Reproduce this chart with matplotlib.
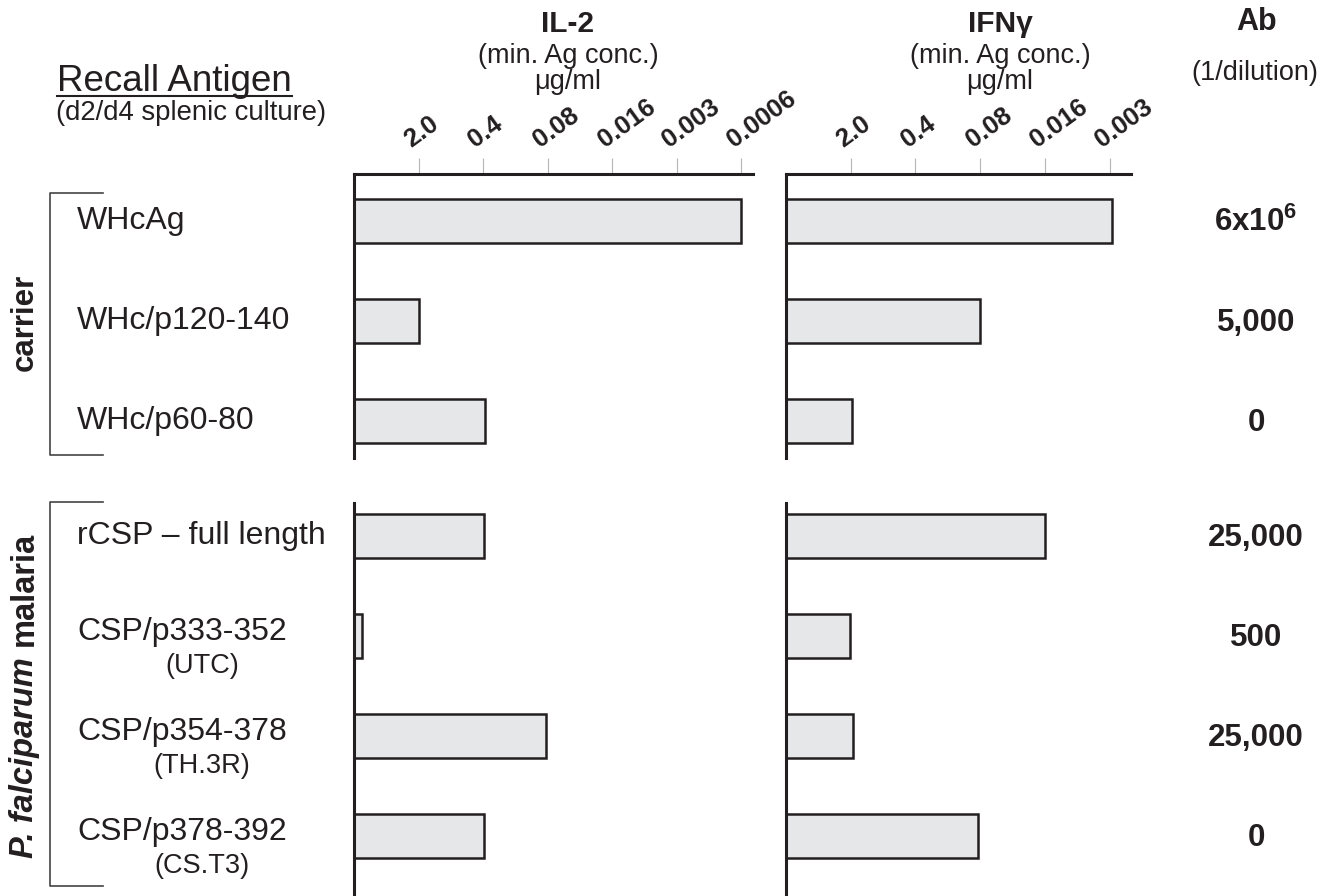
import numpy as np
import matplotlib
matplotlib.use('Agg')
import matplotlib.pyplot as plt
from matplotlib import transforms
from matplotlib.lines import Line2D

plt.rcParams['font.family'] = ['Liberation Sans', 'DejaVu Sans']
plt.rcParams['mathtext.fontset'] = 'custom'
plt.rcParams['mathtext.rm'] = 'Liberation Sans'
plt.rcParams['mathtext.bf'] = 'Liberation Sans:bold'

# recall antigens, two groups
carrier_antigens = ['WHcAg', 'WHc/p120-140', 'WHc/p60-80']
carrier_sub = ['', '', '']
malaria_antigens = ['rCSP \u2013 full length', 'CSP/p333-352', 'CSP/p354-378', 'CSP/p378-392']
malaria_sub = ['', '(UTC)', '(TH.3R)', '(CS.T3)']

# end of bar in dilution steps (1 = 2.0, 2 = 0.4, 3 = 0.08 ... ug/ml)
il2_carrier = [6.0, 1.0, 2.03]
il2_malaria = [2.02, 0.13, 2.98, 2.02]
ifn_carrier = [5.03, 3.0, 1.02]
ifn_malaria = [4.0, 0.99, 1.04, 2.96]

il2_ticks = ['2.0', '0.4', '0.08', '0.016', '0.003', '0.0006']
ifn_ticks = ['2.0', '0.4', '0.08', '0.016', '0.003']

# antibody titres (1/dilution)
ab_carrier = [r'$\mathbf{6x10^{6}}$', '5,000', '0']
ab_malaria = ['25,000', '500', '25,000', '0']

W, H = 1327, 896
INK = '#231f20'
BAR = '#e6e7e8'

fig = plt.figure(figsize=(W / 100, H / 100), dpi=100)


def box(x0, y0, x1, y1):
    return [x0 / W, 1 - y1 / H, (x1 - x0) / W, (y1 - y0) / H]


def ftext(x, y, s, **kw):
    return fig.text(x / W, 1 - y / H, s, color=INK, **kw)


def panel(rect, vals, xmax, ylim, ticks=None):
    ax = fig.add_axes(rect)
    rows = np.arange(len(vals))
    ax.barh(rows, vals, height=0.44, left=0, color=BAR, edgecolor=INK, linewidth=1.8)
    ax.set_xlim(0, xmax)
    ax.set_ylim(*ylim)
    ax.set_facecolor('none')
    ax.spines['right'].set_visible(False)
    ax.spines['bottom'].set_visible(False)
    ax.spines['left'].set_linewidth(2.2)
    ax.spines['left'].set_color(INK)
    ax.set_yticks([])
    if ticks is None:
        ax.spines['top'].set_visible(False)
        ax.set_xticks([])
        return ax
    ax.spines['top'].set_linewidth(2.2)
    ax.spines['top'].set_color(INK)
    pos = np.arange(1, len(ticks) + 1)
    ax.xaxis.tick_top()
    ax.set_xticks(pos)
    ax.set_xticklabels([])
    ax.tick_params(axis='x', direction='out', length=11.5, width=0.8, color='#b5b5b5')
    for p, lab in zip(pos, ticks):
        ax.annotate(lab, xy=(p, 1), xycoords=('data', 'axes fraction'),
                    xytext=(-5.5, 19), textcoords='offset points',
                    rotation=36, rotation_mode='anchor', ha='left', va='baseline',
                    fontsize=18.5, fontweight='bold', color=INK)
    return ax


top_ylim = (2.37, -0.47)
bot_ylim = (3.6, -0.33)
ax_il2_top = panel(box(354, 174, 753, 458), il2_carrier, 6.18, top_ylim, il2_ticks)
ax_il2_bot = panel(box(354, 503, 753, 896), il2_malaria, 6.18, bot_ylim)
ax_ifn_top = panel(box(786, 174, 1131, 458), ifn_carrier, 5.33, top_ylim, ifn_ticks)
ax_ifn_bot = panel(box(786, 503, 1131, 896), ifn_malaria, 5.33, bot_ylim)


def row_labels(ax, names, subs, ab, bracket):
    tr = transforms.blended_transform_factory(fig.transFigure, ax.transData)
    for i, (n, s, a) in enumerate(zip(names, subs, ab)):
        if s:
            ax.text(77 / W, i + 0.04, n, transform=tr, ha='left', va='baseline',
                    fontsize=23, color=INK, clip_on=False)
            ax.text(202 / W, i + 0.37, s, transform=tr, ha='center', va='baseline',
                    fontsize=19.5, color=INK, clip_on=False)
        else:
            ax.text(77 / W, i + 0.08, n, transform=tr, ha='left', va='baseline',
                    fontsize=23, color=INK, clip_on=False)
        ax.text(1256 / W, i + 0.1, a, transform=tr, ha='center', va='baseline',
                fontsize=22.5, fontweight='bold', color=INK, clip_on=False)
    y0, y1 = bracket
    ax.plot([103 / W, 50 / W, 50 / W, 103 / W], [y0, y0, y1, y1], transform=tr,
            color='#444444', lw=1.2, clip_on=False)
    return tr


tr_c = row_labels(ax_il2_top, carrier_antigens, carrier_sub, ab_carrier, (-0.28, 2.34))
tr_m = row_labels(ax_il2_bot, malaria_antigens, malaria_sub, ab_malaria, (-0.34, 3.5))

# group names, rotated
ax_il2_top.text(33 / W, 1.01, 'carrier', transform=tr_c, rotation=90, rotation_mode='anchor',
                ha='center', va='baseline', fontsize=22.5, fontweight='bold', color=INK)
t_pf = ax_il2_bot.text(33 / W, 3.22, 'P. falciparum', transform=tr_m, rotation=90,
                       rotation_mode='anchor', ha='left', va='baseline', fontsize=23.5,
                       fontweight='bold', fontstyle='italic', color=INK)
ax_il2_bot.annotate('malaria', xy=(33, 1.0), xycoords=('figure pixels', t_pf),
                    xytext=(0, 8), textcoords='offset points', rotation=90,
                    rotation_mode='anchor', ha='left', va='baseline', fontsize=23.5,
                    fontweight='bold', color=INK)

# column headers
for cx, name in [(568, 'IL-2'), (1000, 'IFN\u03b3')]:
    ftext(cx, 32, name, ha='center', va='baseline', fontsize=21.5, fontweight='bold')
    ftext(cx, 63, '(min. Ag conc.)', ha='center', va='baseline', fontsize=19.5)
    ftext(cx, 89, '\u03bcg/ml', ha='center', va='baseline', fontsize=19.5)
ftext(1257, 30, 'Ab', ha='center', va='baseline', fontsize=22, fontweight='bold')
ftext(1255, 80, '(1/dilution)', ha='center', va='baseline', fontsize=19.5)

t_rec = ftext(57, 91, 'Recall Antigen', ha='left', va='baseline', fontsize=26.5)
ftext(56, 120, '(d2/d4 splenic culture)', ha='left', va='baseline', fontsize=19.8)

fig.canvas.draw()
bb = t_rec.get_window_extent(fig.canvas.get_renderer())
fig.add_artist(Line2D([bb.x0 / W, bb.x1 / W], [1 - 96 / H, 1 - 96 / H],
                      transform=fig.transFigure, color=INK, lw=1.5))

fig.savefig('out.png', dpi=100)
